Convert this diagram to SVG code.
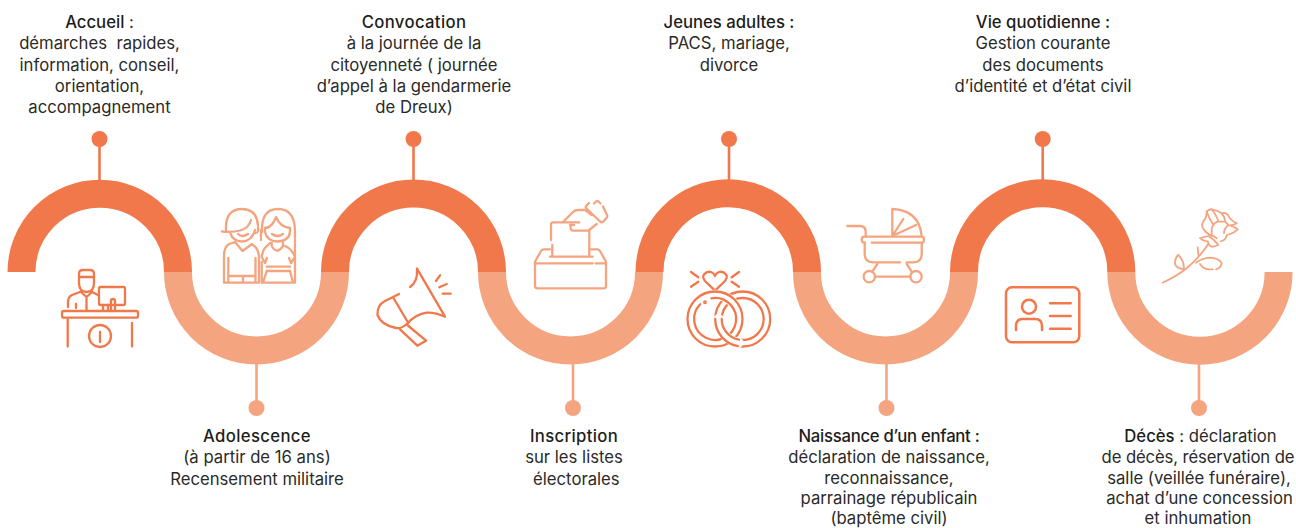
<svg xmlns="http://www.w3.org/2000/svg" width="1296" height="528" viewBox="0 0 1296 528">
<style>
.t{font-family:"Inter","Liberation Sans",sans-serif;font-size:16.7px;fill:#2a2a28;text-anchor:middle;white-space:pre}
.b{font-weight:500;fill:#1d1d1b}
.w1{letter-spacing:.35px}
.d{fill:none;stroke:#f1784b;stroke-width:28}
.l{fill:none;stroke:#f5a480;stroke-width:28}
.sd{fill:none;stroke:#f1784b;stroke-width:2.600}
.sl{fill:none;stroke:#f5a480;stroke-width:2.600}
.i{fill:none;stroke:#f1784b;stroke-width:2.300;stroke-linecap:round;stroke-linejoin:round}
.j{fill:none;stroke:#f5a480;stroke-width:2.300;stroke-linecap:round;stroke-linejoin:round}
.w{fill:none;stroke:#fff;stroke-width:10}
</style>
<g id="connectors">
<path class="sd" d="M99.500 140V180M413.500 140V180M729 140V180M1042.700 140V180"/>
<path class="sl" d="M256.500 364V408M573 364V408M886.500 364V408M1199 364V408"/>
<circle cx="99.500" cy="139" r="8" fill="#f1784b"/><circle cx="413.500" cy="139" r="8" fill="#f1784b"/><circle cx="729" cy="139" r="8" fill="#f1784b"/><circle cx="1042.700" cy="139" r="8" fill="#f1784b"/>
<circle cx="256.500" cy="408" r="8" fill="#f5a480"/><circle cx="573" cy="408" r="8" fill="#f5a480"/><circle cx="886.500" cy="408" r="8" fill="#f5a480"/><circle cx="1199" cy="408" r="8" fill="#f5a480"/>
</g>
<g id="wave">
<path class="l" d="M178 272A78.500 78.500 0 0 0 335 272"/>
<path class="l" d="M492 272A78.500 78.500 0 0 0 649 272"/>
<path class="l" d="M807 272A78.500 78.500 0 0 0 964 272"/>
<path class="l" d="M1121.300 272A78.600 78.600 0 0 0 1278.600 272"/>
<path class="d" d="M21.500 272A78.250 78.250 0 0 1 178 272"/>
<path class="d" d="M335 272A78.500 78.500 0 0 1 492 272"/>
<path class="d" d="M649.500 272A78.750 78.750 0 0 1 807 272"/>
<path class="d" d="M964 272A78.650 78.650 0 0 1 1121.300 272"/>
</g>
<g id="accueil">
<text class="t" x="99.500" y="27.600"><tspan class="b">Accueil</tspan> :</text>
<text class="t" x="99.500" y="49">démarches  rapides,</text>
<text class="t" x="99.500" y="70.500">information, conseil,</text>
<text class="t" x="99.500" y="92">orientation,</text>
<text class="t" x="99.500" y="113">accompagnement</text>
<g class="i">
<path d="M79 283V274Q79 270 83 270H90Q94 270 94 274V283Q94 292 86.500 292Q79 292 79 283ZM79 277H94"/>
<path d="M80 292L72 295Q68 297 68 302V307M76 304V308M86.500 298V310M81 292L86.500 297L92 292L98 295"/>
<rect x="99" y="287" width="26" height="18" rx="1.500"/>
<path d="M103 305V310M108 305V310M111 310V301Q111 299 113 299Q115 299 115 301V310"/>
<rect x="62" y="311" width="76" height="6.700" rx="2"/>
<path d="M67.700 319V346.500M132 323V346.500"/>
<circle cx="100" cy="336" r="11"/>
<path d="M100 332V342"/>
</g>
</g>
<g id="adolescence">
<text class="t" x="257" y="441.600"><tspan class="b w1">Adolescence</tspan></text>
<text class="t" x="257" y="463">(à partir de 16 ans)</text>
<text class="t" x="257" y="484.500">Recensement militaire</text>
<g class="j">
<path d="M226 230Q225 209 242 209Q257 209 258 226M222 231.500Q240 233 247 227Q250 224 251 220M230 232Q232 241 242 241.500Q252 241 255 230M258 228Q259 233 255 233"/>
<path d="M238 234Q242 238 248 234M235 242L242.500 251L252 244M235 242L229 244Q224 247 224 256V282.700H259M253 245Q258 248 259 256V282.700M228.300 258V282.700M255.500 258V282.700M228.300 276H255.500M243 276V282.700"/>
<path d="M262 232Q261 209 278 209Q295 209 295 232V238M265 228Q272 228 276 217Q280 227 290 228V232Q289 241 277.500 241.500Q267 241 265 232ZM272 234Q277.500 238 283 234M261 230V240"/>
<path d="M271.700 243V246Q277 255 283 246V243M270 243L265 248Q263 250 261.700 257L265 263L267 258M285 246Q292 249 295 257L291 263L289 258M295 240V282.700H261.700V262M266.700 266.700H290M266.700 271H290M266.700 271L263 282.700M290 271L293 282.700"/>
</g>
</g>
<g id="convocation">
<text class="t" x="414" y="27.600"><tspan class="b w1">Convocation</tspan></text>
<text class="t" x="414" y="49">à la journée de la</text>
<text class="t" x="414" y="70.500">citoyenneté ( journée</text>
<text class="t" x="414" y="92">d’appel à la gendarmerie</text>
<text class="t" x="414" y="113">de Dreux)</text>
<g class="i">
<path d="M417 268.700L445 316.700Q434 312 426.700 312.700Q416 314 406.700 324Q401 329 396 328Q381 325 377.500 315Q377 305 385 301L399 294"/>
<path d="M417 268.700Q418 282 410 287M393.500 298L408.300 323"/>
<path d="M400 329.300L417.300 345.700L426 340.700L407.300 325"/>
<path d="M436 281L440 275.300M439.300 287.300L446.700 284M442.700 293.700H450.700"/>
</g>
</g>
<g id="inscription">
<text class="t" x="574" y="441.600"><tspan class="b w1">Inscription</tspan></text>
<text class="t" x="574" y="463">sur les listes</text>
<text class="t" x="574" y="484.500"> électorales</text>
<g class="j">
<path d="M550 249.300H544Q542 249.300 541 251L535 261.700V286Q535 288.300 537.500 288.300H603.500Q606 288.300 606 286V261.700L600 251Q599 249.300 597 249.300H590.700"/>
<path d="M535.500 263.300H592.700M595.500 263.300H606M550 256.700H592.700"/>
<path d="M551 240V224.500Q551 222.300 553 222.300H579.300M552.300 245V256.700M589.300 230.700V256"/>
<path d="M563.300 221.700L573 212Q575 210 578 210H585L591.700 215M570 225H574M571 224.500Q569 230.700 574 230.700H588.300L596.700 224"/>
<path d="M594 203.500L596 201.500Q597 200.500 598.500 201.500L600.500 203.500M603 206.500L606.800 214.500Q608 216 606.800 217.500L603.500 221.500Q602 223 600 221.500L586.500 208.500Q585 207 586.500 205.500L589 203"/>
</g>
</g>
<g id="jeunes">
<text class="t" x="729" y="27.600"><tspan class="b">Jeunes adultes :</tspan></text>
<text class="t" x="729" y="49">PACS, mariage,</text>
<text class="t" x="729" y="70.500">divorce</text>
<g class="i">
<path d="M715 290.700L705 281Q702 277 704 274.500Q707 271 711 272Q714 273 715 276Q716 273 719 272Q723 271 726 274.500Q728 277 725 281Z"/>
<path d="M691 272L698.300 277.300M691 286.700L698.300 281.700M739 272L731.700 277.300M739 286.700L731.700 281.700"/>
<circle cx="742.700" cy="319" r="27.500"/>
<circle cx="742.700" cy="319" r="21"/>
<circle class="w" cx="715" cy="319" r="24.200"/>
<circle cx="715" cy="319" r="27.500"/>
<path d="M700.200 304.200A21 21 0 1 0 711.400 298.300"/>
<circle cx="705" cy="302.300" r="0.800"/>
<path class="w" d="M718.700 319A24 24 0 0 0 738.500 342.600"/>
<path d="M715.200 319A27.500 27.500 0 0 0 737.900 346.100M721.700 319A21 21 0 0 0 739 339.700"/>
</g>
</g>
<g id="naissance">
<text class="t" x="889" y="441.600"><tspan class="b" letter-spacing="-0.260">Naissance d’un enfant :</tspan></text>
<text class="t" x="889" y="462.800">déclaration de naissance,</text>
<text class="t" x="889" y="483.600">reconnaissance,</text>
<text class="t" x="889" y="504">parrainage républicain</text>
<text class="t" x="889" y="523.800">(baptême civil)</text>
<g class="j">
<path d="M847.300 226H860Q865.700 226 865.700 232V236.700"/>
<path d="M864.500 236.700H921.500Q924 236.700 924 239.700Q924 242.700 921.500 242.700H871.700M865 242.700Q861.700 242.700 861.700 239.700Q861.700 236.700 864.500 236.700"/>
<path d="M892.300 236V209Q919 210 921.700 236M892.300 236L903.300 219M892.300 236L916 225"/>
<path d="M864.700 243V254Q864.700 262.300 873 262.300H900M906.700 262.300H913.500Q921.700 262.300 921.700 254V243"/>
<circle cx="869.300" cy="276.700" r="5.700"/><circle cx="916" cy="276.700" r="5.700"/>
<path d="M875 276.700H910.300M877.300 264L872.300 271.700M906.700 264L911.700 271.700"/>
</g>
</g>
<g id="vie">
<text class="t" x="1043" y="27.600"><tspan class="b">Vie quotidienne :</tspan></text>
<text class="t" x="1043" y="49">Gestion courante</text>
<text class="t" x="1043" y="70.500">des documents</text>
<text class="t" x="1043" y="92">d’identité et d’état civil</text>
<g class="i" style="stroke-width:2.500">
<rect x="1006" y="287.300" width="73.300" height="55" rx="6"/>
<circle cx="1029" cy="306.700" r="7"/>
<path d="M1016 330V326Q1016 319 1023 319H1035Q1042 319 1042 326V330M1050 303.300H1070.700M1050 316H1070.700M1050 328.700H1070.700"/>
</g>
</g>
<g id="deces">
<text class="t" x="1200.500" y="441.600"><tspan class="b">Décès</tspan> : déclaration</text>
<text class="t" x="1198" y="462.800" letter-spacing="-0.120">de décès, réservation de</text>
<text class="t" x="1199" y="483.600">salle (veillée funéraire),</text>
<text class="t" x="1199.500" y="504">achat d’une concession</text>
<text class="t" x="1198" y="523.800">et inhumation</text>
<g class="j" style="stroke-width:1.800">
<path d="M1162.700 282.700Q1177 276 1186.700 268.300Q1199 258 1208.300 244M1197.700 247.300L1198.300 255"/>
<path d="M1184 269.300Q1174 268 1175 261.700Q1175.500 257 1178.300 255Q1184 260 1184 269.300Z"/>
<path d="M1196 262.700Q1203 258 1210 257.700Q1219 258 1221.700 263.300Q1221 268 1216 269.300M1213 269.300H1209Q1203 269 1200 264"/>
<path d="M1200 238L1208.300 236Q1214 239 1218.300 245Q1214 247 1211.700 246.700Q1208 245 1208 241.700Q1203 241 1200 238Z"/>
<path d="M1211.700 236Q1206 233 1203.500 229Q1201 226 1203 222Q1207 217 1206.700 211.700Q1209 209 1211.700 209.300Q1217 210 1221.700 213.300Q1225 212 1228 215Q1230 220 1236.700 223.300Q1234 225 1230 225.500Q1235 227 1237.700 229.300Q1234 233 1226.700 235Q1226 240 1221 241.200"/>
<path d="M1206.700 211.700Q1209 218 1213.300 225M1211.700 209.300Q1217 216 1218.300 221.700M1221.700 213.300Q1225 217 1225 221.700M1211.700 235V228.300Q1214 222 1218.300 221.700H1225L1228.300 225Q1224 229 1224 233M1211.700 235L1216.700 238.300"/>
</g>
</g>
</svg>
